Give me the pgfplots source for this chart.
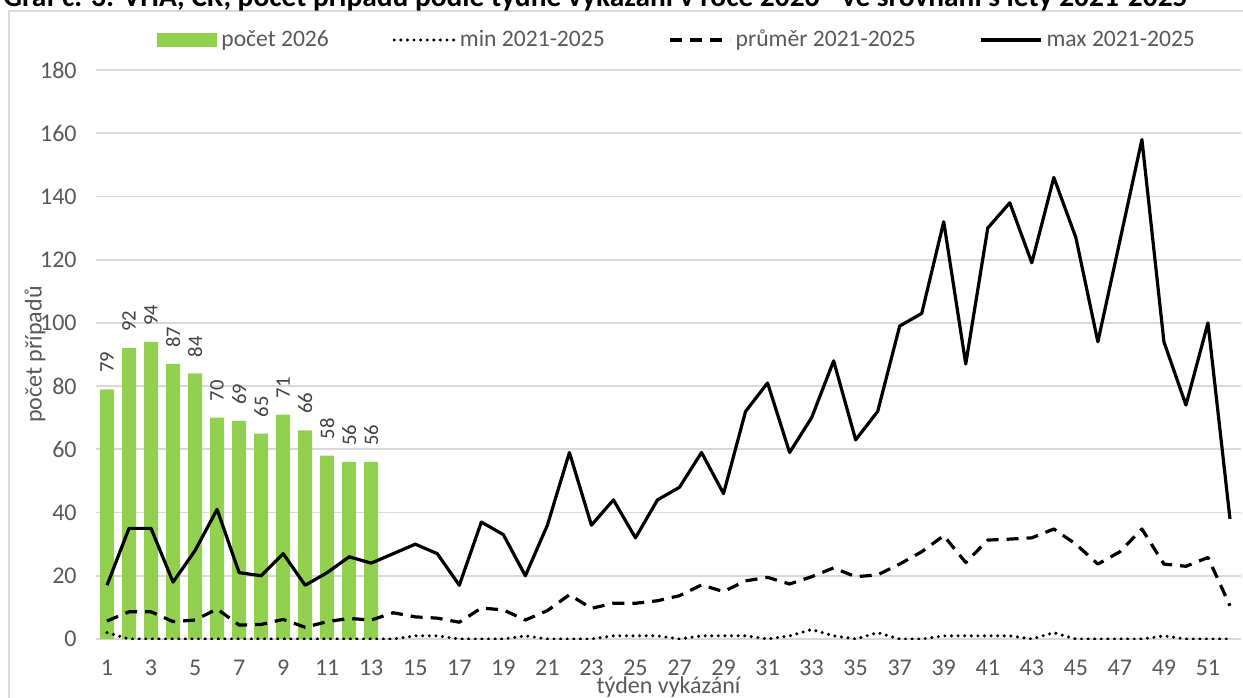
\documentclass[border=0pt]{standalone}
\usepackage{fontspec}
\setmainfont{Carlito}
\usepackage{pgfplots}
\pgfplotsset{compat=1.18}
\definecolor{barc}{HTML}{92D050}
\definecolor{tickc}{HTML}{595959}
\definecolor{gridc}{HTML}{D9D9D9}
\definecolor{labc}{HTML}{404040}
\pgfplotsset{
  mylineleg/.style={legend image code/.code={\draw[##1] (0pt,0pt) -- (30pt,0pt);}},
  mybarleg/.style={legend image code/.code={\fill[barc] (0pt,-3.5pt) rectangle (30pt,3.5pt);}},
}
\begin{document}
\begin{tikzpicture}[x=1pt,y=1pt]
\useasboundingbox (0,0) rectangle (621.5,348.5);
\draw[gridc, line width=0.75pt] (4.5,-20) rectangle (660,343);
\node[anchor=base west, inner sep=0pt, font=\bfseries\fontsize{14.7}{16}\selectfont] at (1.5,345) {Graf č. 3: VHA, ČR, počet případů podle týdne vykázání v roce 2026 - ve srovnání s lety 2021-2025};
\begin{axis}[
  at={(48pt,29pt)}, anchor=south west,
  scale only axis, width=572.5pt, height=284.5pt,
  xmin=0.5, xmax=52.5, ymin=0, ymax=180,
  xtick={1,3,...,51}, ytick={0,20,...,180},
  ymajorgrids, grid style={gridc, line width=0.9pt},
  axis line style={draw=none}, tick style={draw=none}, major tick length=0pt,
  /pgf/number format/assume math mode=true,
  ticklabel style={font=\fontsize{12}{14}\selectfont, text=tickc, inner sep=0pt},
  xticklabel style={anchor=north, yshift=-10.5pt},
  yticklabel style={anchor=east, xshift=-9.5pt},
  ylabel={počet případů}, xlabel={týden vykázání},
  every axis y label/.style={at={(axis description cs:-0.05328,0.5)}, rotate=90, anchor=center, font=\fontsize{12}{14}\selectfont, text=tickc},
  every axis x label/.style={at={(axis description cs:0.5,-0.0966)}, anchor=base, font=\fontsize{12}{14}\selectfont, text=tickc},
  legend columns=4,
  legend cell align=left,
  legend style={at={(axis description cs:0,1)}, anchor=west, xshift=30.5pt, yshift=15pt, draw=none, fill=none, inner sep=0pt,
    font=\fontsize{11.8}{13}\selectfont, text=tickc,
    /tikz/every even column/.append style={column sep=29.8pt}},
]
\addplot[ybar, bar width=0.636, fill=barc, draw=none,
  nodes near coords, nodes near coords align={horizontal},
  every node near coord/.append style={font=\fontsize{10.3}{12}\selectfont, text=labc, rotate=90, anchor=west, inner xsep=8pt, inner ysep=0pt},
  mybarleg]
coordinates {(1,79) (2,92) (3,94) (4,87) (5,84) (6,70) (7,69) (8,65) (9,71) (10,66) (11,58) (12,56) (13,56)};
\addlegendentry{počet 2026}
\addplot[black, line width=1.7pt, line cap=round, dash pattern=on 0pt off 3.3pt, mylineleg]
coordinates {(1,2) (2,0) (3,0) (4,0) (5,0) (6,0) (7,0) (8,0) (9,0) (10,0) (11,0) (12,0) (13,0) (14,0) (15,1) (16,1) (17,0) (18,0) (19,0) (20,1) (21,0) (22,0) (23,0) (24,1) (25,1) (26,1) (27,0) (28,1) (29,1) (30,1) (31,0) (32,1) (33,3) (34,1) (35,0) (36,2) (37,0) (38,0) (39,1) (40,1) (41,1) (42,1) (43,0) (44,2) (45,0) (46,0) (47,0) (48,0) (49,1) (50,0) (51,0) (52,0)};
\addlegendentry{min 2021-2025}
\addplot[black, line width=1.6pt, dash pattern=on 6pt off 4pt, line join=round, mylineleg]
coordinates {(1,5.7) (2,8.6) (3,8.6) (4,5.5) (5,6) (6,9.5) (7,4.4) (8,4.6) (9,6.2) (10,3.7) (11,5.5) (12,6.5) (13,6) (14,8.3) (15,7) (16,6.6) (17,5.3) (18,9.8) (19,9.2) (20,6) (21,9) (22,14) (23,9.7) (24,11.3) (25,11.3) (26,12.1) (27,13.7) (28,17.1) (29,15) (30,18.4) (31,19.5) (32,17.4) (33,19.7) (34,22.5) (35,19.7) (36,20.3) (37,23.7) (38,27.6) (39,32.7) (40,24.2) (41,31.3) (42,31.6) (43,32) (44,34.8) (45,30) (46,23.7) (47,27.6) (48,34.8) (49,23.7) (50,23) (51,25.8) (52,10.5)};
\addlegendentry{průměr 2021-2025}
\addplot[black, line width=1.6pt, line join=round, mylineleg]
coordinates {(1,17) (2,35) (3,35) (4,18) (5,28) (6,41) (7,21) (8,20) (9,27) (10,17) (11,21) (12,26) (13,24) (14,27) (15,30) (16,27) (17,17) (18,37) (19,33) (20,20) (21,36) (22,59) (23,36) (24,44) (25,32) (26,44) (27,48) (28,59) (29,46) (30,72) (31,81) (32,59) (33,70) (34,88) (35,63) (36,72) (37,99) (38,103) (39,132) (40,87) (41,130) (42,138) (43,119) (44,146) (45,127) (46,94) (47,126) (48,158) (49,94) (50,74) (51,100) (52,38)};
\addlegendentry{max 2021-2025}
\end{axis}
\end{tikzpicture}
\end{document}
